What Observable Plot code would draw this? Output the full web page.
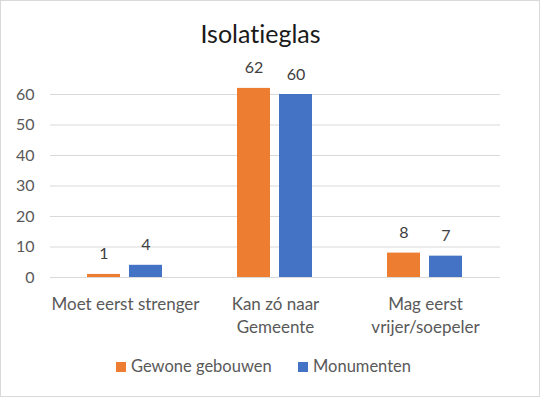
<!DOCTYPE html>
<html>
<head>
<meta charset="utf-8">
<script src="https://cdn.jsdelivr.net/npm/d3@7"></script>
<script src="https://cdn.jsdelivr.net/npm/@observablehq/plot@0.6"></script>
<style>
  body { margin: 0; background: #fff; }
  #wrap { position: relative; width: 540px; height: 397px; overflow: hidden; font-family: Lato, "Open Sans", sans-serif; font-variant-ligatures: none; }
  #wrap svg text { font-variant-ligatures: none; }
  #border { position: absolute; left: 0; top: 0; width: 540px; height: 397px; box-sizing: border-box; border: 1px solid #d9d9d9; pointer-events: none; }
  #title { position: absolute; left: 0; top: 18px; width: 521px; text-align: center; font-size: 25px; line-height: 1.2; color: #1a1a1a; }
  #chart { position: absolute; left: 0; top: 0; }
  .leg { position: absolute; top: 357px; display: flex; align-items: center; font-size: 16.5px; color: #595959; line-height: 19px; }
  .sw { width: 10px; height: 10px; margin-right: 5px; }
</style>
</head>
<body>
<div id="wrap">
  <div id="title"></div>
  <div id="chart"></div>
  <div id="legend"></div>
  <div id="border"></div>
</div>
<script>
const title = "Isolatieglas";
const categories = ["Moet eerst strenger", "Kan zó naar\nGemeente", "Mag eerst\nvrijer/soepeler"];
const series = ["Gewone gebouwen", "Monumenten"];
const gewone = [1, 62, 8];
const monumenten = [4, 60, 7];
const colors = ["#ED7D31", "#4472C4"];
const yTicks = [0, 10, 20, 30, 40, 50, 60];
const legendLeft = [116, 298];

const data = categories.flatMap((c, i) => [
  {cat: c, s: series[0], v: gewone[i]},
  {cat: c, s: series[1], v: monumenten[i]}
]);

document.getElementById("title").textContent = title;

const chart = Plot.plot({
  width: 540,
  height: 340,
  marginLeft: 50,
  marginRight: 40,
  marginTop: 63.5,
  marginBottom: 63,
  style: {fontFamily: "Lato, 'Open Sans', sans-serif", background: "transparent"},
  fx: {domain: categories, padding: 0, label: null},
  x: {domain: series, paddingInner: 0.209, paddingOuter: 0.849, axis: null},
  y: {domain: [0, 70], axis: null},
  color: {domain: series, range: colors},
  marks: [
    Plot.gridY(yTicks, {stroke: "#D9D9D9", strokeOpacity: 1, strokeWidth: 1}),
    Plot.axisY(yTicks, {tickSize: 0, tickPadding: 16, fontSize: 16, fill: "#595959", label: null}),
    Plot.axisFx({anchor: "bottom", tickSize: 0, tickPadding: 16, fontSize: 17, fill: "#595959", lineHeight: 1.35, label: null}),
    Plot.barY(data, {fx: "cat", x: "s", y: "v", fill: "s"}),
    Plot.text(data, {fx: "cat", x: "s", y: "v", text: d => String(d.v), lineAnchor: "bottom", dy: -15, fontSize: 16, fill: "#404040"})
  ]
});
document.getElementById("chart").appendChild(chart);

const legend = document.getElementById("legend");
series.forEach((s, i) => {
  const item = document.createElement("div");
  item.className = "leg";
  item.style.left = legendLeft[i] + "px";
  const sw = document.createElement("div");
  sw.className = "sw";
  sw.style.background = colors[i];
  const t = document.createElement("span");
  t.textContent = s;
  item.appendChild(sw);
  item.appendChild(t);
  legend.appendChild(item);
});
</script>
</body>
</html>
